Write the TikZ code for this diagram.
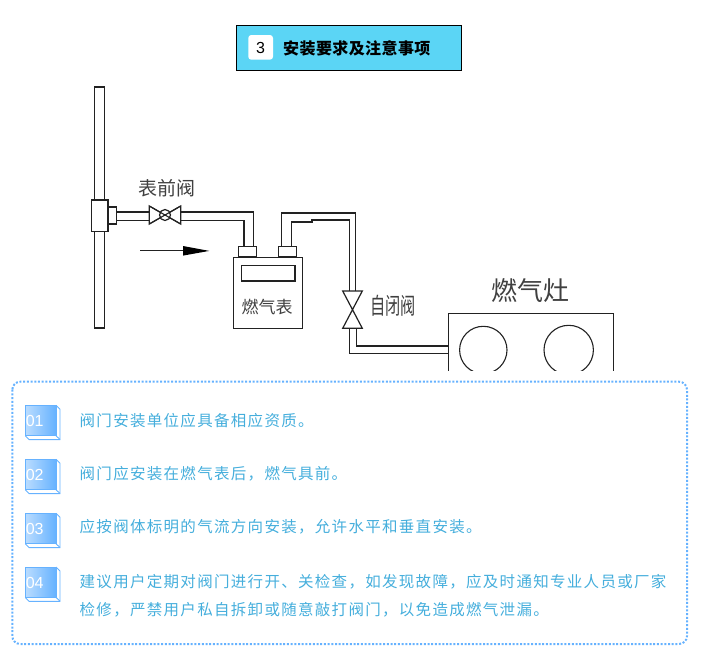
\documentclass[tikz,border=0pt]{standalone}
\usepackage{fontspec}
\setmainfont{Liberation Sans}
\newfontfamily\cjk{Noto Sans CJK SC}
\newfontfamily\cjkwide[LetterSpace=8.4]{Noto Sans CJK SC}
\newfontfamily\cjkhead[LetterSpace=2.5]{Noto Sans CJK SC}
\usetikzlibrary{positioning,arrows.meta}
\definecolor{headfill}{HTML}{5BD5F5}
\definecolor{panelblue}{HTML}{66B2FF}
\definecolor{textblue}{HTML}{45AEDC}
\definecolor{lineink}{HTML}{222222}
\definecolor{labelink}{HTML}{404040}
\tikzset{
  pipe/.style={draw=lineink, line width=1.1pt},
  part/.style={draw=lineink, line width=1.2pt, fill=white},
  heading/.style={font=\fontsize{16}{16}\selectfont\cjkhead\bfseries, text=black, anchor=west, inner sep=0pt},
  sketchlabel/.style={text=labelink, inner sep=0pt},
  remark/.style={font=\fontsize{15.5}{15.5}\selectfont\cjkwide, text=textblue, anchor=west, inner sep=0pt},
  badgetext/.style={font=\fontsize{16}{16}\selectfont, text=white, inner sep=0pt},
  badgeedge/.style={draw=panelblue, line width=0.9pt},
}

\begin{document}
\begin{tikzpicture}[x=1pt, y=-1pt]
  \useasboundingbox (0,0) rectangle (709,665);

  % heading
  \draw[black, line width=1pt, fill=headfill] (236.3,25.3) rectangle (461.3,70.3);
  \fill[white, rounded corners=3pt] (248.3,35) rectangle (273,59.7);
  \node[font=\fontsize{16}{16}\selectfont, text=black, inner sep=0pt] (headnum) at (260.5,47.5) {3};
  \node[heading] (headtext) at (283,48) {安装要求及注意事项};

  % riser and tee
  \draw[part] (94.7,87) rectangle (104.7,328);
  \draw[part] (108,207) rectangle (116.7,224);
  \draw[part] (91.3,200) rectangle (108,231.7);

  % inlet pipe
  \draw[pipe] (116.7,212) -- (149.3,212) (116.7,220.7) -- (149.3,220.7);
  \draw[pipe] (180.7,212) -- (253.3,212) -- (253.3,246.7);
  \draw[pipe] (180.7,220.7) -- (244,220.7) -- (244,246.7);

  % valve before meter
  \draw[part] (149.3,206) -- (149.3,224) -- (180.7,206) -- (180.7,224) -- cycle;
  \draw[part] (165,215) circle (5.5);
  \draw[pipe] (149.3,206) -- (180.7,224) (149.3,224) -- (180.7,206);
  \node[sketchlabel, font=\fontsize{19}{19}\selectfont\cjk] (valvelabel) at (167,188.5) {表前阀};

  % flow arrow
  \draw[lineink, line width=1pt] (140,250.7) -- (184,250.7);
  \fill[black] (183,246) -- (209.3,250.9) -- (183,255.6) -- cycle;

  % meter
  \draw[part] (233.3,257.7) rectangle (302.7,328.3);
  \draw[part] (241.7,265.3) rectangle (295,281);
  \draw[part] (238.7,246.7) rectangle (256.7,257);
  \draw[part] (278.7,246.7) rectangle (296.7,257);
  \node[sketchlabel, font=\fontsize{17}{17}\selectfont\cjk] (meterlabel) at (267,307) {燃气表};

  % outlet pipe
  \draw[pipe] (281.7,246.7) -- (281.7,213) -- (355.7,213) -- (355.7,292);
  \draw[pipe] (291.7,246.7) -- (291.7,222) -- (312,222) -- (312,220) -- (349.3,220) -- (349.3,292);

  % self-closing valve
  \draw[part] (342.7,291) -- (362.3,291) -- (342.7,328.3) -- (362.3,328.3) -- cycle;
  \node[sketchlabel, font=\fontsize{23}{23}\selectfont\cjk, xscale=0.66, transform shape] (closelabel) at (393,305.5) {自闭阀};

  % stove
  \draw[pipe] (349.3,328.3) -- (349.3,353.3) -- (448.3,353.3);
  \draw[pipe] (356.7,328.3) -- (356.7,346) -- (448.3,346);
  \begin{scope}
    \clip (440,300) rectangle (620,370);
    \draw[lineink, line width=1.1pt] (448.3,380) -- (448.3,313.3) -- (613.3,313.3) -- (613.3,380);
    \draw[lineink, line width=1.1pt] (483.3,350) circle (23.7);
    \draw[lineink, line width=1.1pt] (568.7,350) circle (24.7);
  \end{scope}
  \node[sketchlabel, font=\fontsize{26}{26}\selectfont\cjk] (stovelabel) at (530,290.5) {燃气灶};

  % notes panel
  \draw[panelblue, line width=2pt, dash pattern=on 2pt off 1.7pt, rounded corners=8pt]
    (12.3,381.7) rectangle (687,644);

  \foreach \num/\ypos in {01/405.3, 02/459.3, 03/513.3, 04/567} {
    \draw[badgeedge] (56,\ypos) -- ++(4,4) -- ++(0,30.3) -- ++(-31,0) -- ++(-3.7,-3.7);
    \draw[badgeedge] (56,\ypos+30.4) -- ++(4,3.8);
    \draw[badgeedge, left color=panelblue!45!white, right color=panelblue] (25.3,\ypos) rectangle ++(30.7,30.4);
    \node[badgetext, anchor=west] (badge\num) at (25.6,\ypos+15.6) {\num};
  }

  \node[remark] (note1) at (79.5,421) {阀门安装单位应具备相应资质。};
  \node[remark] (note2) at (79.5,474) {阀门应安装在燃气表后，燃气具前。};
  \node[remark] (note3) at (79.5,527) {应按阀体标明的气流方向安装，允许水平和垂直安装。};
  \node[remark] (note4) at (79.5,582) {建议用户定期对阀门进行开、关检查，如发现故障，应及时通知专业人员或厂家};
  \node[remark] (note5) at (79.5,610) {检修，严禁用户私自拆卸或随意敲打阀门，以免造成燃气泄漏。};
\end{tikzpicture}
\end{document}
